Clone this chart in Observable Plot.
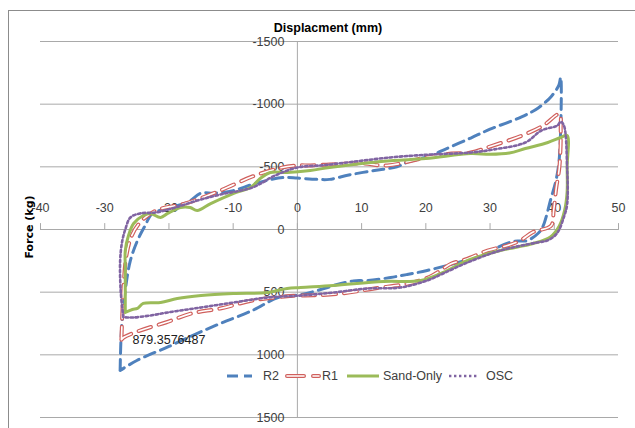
<!DOCTYPE html>
<html><head><meta charset="utf-8">
<script src="https://cdn.jsdelivr.net/npm/d3@7"></script>
<script src="https://cdn.jsdelivr.net/npm/@observablehq/plot@0.6"></script>
<style>
body{margin:0;background:#fff;overflow:hidden}
#wrap{position:relative;width:635px;height:428px;overflow:hidden;background:#fff;font-family:"Liberation Sans",Arial,sans-serif;color:#404040}
#frame{position:absolute;left:8px;top:10px;width:700px;height:500px;border:1px solid #8c8c8c}
#chart{position:absolute;left:0;top:0}
.title{position:absolute;left:228px;width:200px;top:21px;text-align:center;font-weight:bold;font-size:12.5px;color:#000}
.ylab{position:absolute;left:29px;top:227px;transform:translate(-50%,-50%) rotate(-90deg);font-family:"DejaVu Sans",sans-serif;font-weight:bold;font-size:11px;white-space:nowrap;color:#000}
.leg{position:absolute;top:367px;height:18px;display:flex;align-items:center;font-size:12.5px;color:#404040}
.leg svg{display:block}
</style></head>
<body>
<div id="wrap">
  <div id="frame"></div>
  <div id="chart"></div>
  <div class="title">Displacment (mm)</div>
  <div class="ylab">Force (kg)</div>
  <div id="legend"></div>
</div>
<script>
// ---- data (displacement mm, force kg) ----
const seriesNames = ["R2", "R1", "Sand-Only", "OSC"];

const r2X = [-27.6,-27.4,-26.8,-26.0,-24.9,-23.7,-22.6,-20,-17,-15,-13,-10,-7,-4,-2,0,3,5,8,12,15.5,17,20.5,23,27,30,35,37.5,39.5,40.7,41.0,40.8,40.3,39.5,38.2,37.5,35.8,33.6,30.5,29.6,25.6,20.2,17,14.5,11,8.7,5.6,4.7,0.5,-3,-7,-12,-16,-20,-25,-27.6];
const r2F = [1125,806,487,247,88,-32,-128,-170,-220,-290,-290,-310,-360,-400,-415,-410,-400,-400,-435,-471,-500,-535,-585,-640,-730,-800,-900,-970,-1060,-1150,-1213,-580,-400,-250,-20,30,88,95,160,191,255,327,360,383,407,410,447,463,520,543,646,750,838,933,1045,1125];

const r1X = [-27.4,-27.2,-27.0,-26.6,-25.8,-24.5,-22,-17.5,-12,-7,-3,0,2,5,10,14,20,24,27,30,35,38.3,40.8,41.0,40.8,40.3,39.9,39.5,36.7,34.7,32.7,29.6,27,25.5,24,21,18,12,7,2.5,0,-2,-7,-12,-16.5,-20.5,-24.5,-27,-27.4];
const r1F = [879.3576487,600,400,200,50,-56,-152,-207,-311,-423,-487,-511,-511,-519,-527,-511,-574,-606,-614,-662,-750,-830,-920,-800,-500,-330,-150,-30,20,88,128,168,223,250,271,367,423,470,510,525,527,535,567,630,670,742,806,860,879.3576487];

const sandX = [-26.8,-26.8,-26.8,-26.8,-26.3,-25.5,-24,-22.9,-21.3,-20.2,-18.2,-16.7,-15.6,-13.5,-10,-7.3,-5.8,-4.2,-1.6,2,5,10,15,20,27,30,33,35.5,39,41,42,42,42,41.6,40.8,39.4,36.7,31.6,26.5,22.7,19.2,13.4,5.6,0.5,-1.6,-4.7,-10,-15,-18.7,-21.3,-24,-24.9,-25.7,-26.8];
const sandF = [662,450,300,168,48,-48,-112,-128,-96,-128,-176,-176,-152,-207,-287,-335,-407,-455,-455,-471,-495,-527,-551,-566,-606,-600,-610,-646,-694,-734,-750,-500,-300,-150,-30,60,112,168,247,343,407,415,447,463,471,503,511,527,551,582,590,630,638,662];

const oscX = [-27.1,-27.5,-27.6,-27.3,-26.8,-26,-24.5,-22,-19,-15.6,-12,-7,-3.5,0,3.5,6.5,14.5,20.7,27,30.5,35.5,38,40.5,41,41.5,42,42,41.5,40.4,38.9,37.3,31.6,26.5,22.7,20.2,16,10.9,5.6,0.5,-4.7,-10,-15,-20.2,-22.9,-25.5,-26.5,-27.1];
const oscF = [700,500,250,100,0,-96,-128,-136,-176,-231,-279,-335,-430,-495,-511,-527,-575,-598,-614,-638,-694,-790,-830,-860,-830,-500,-200,-100,32,88,104,168,263,351,407,463,471,503,527,543,583,622,662,686,702,702,700];

const xTicks = [-40,-30,-20,-10,0,10,20,30,40,50];
const yTicks = [-1500,-1000,-500,0,500,1000,1500];
const labelValue = 879.3576487;

// ---- build table ----
const series = [
  {name: "R2", xs: r2X, fs: r2F},
  {name: "R1", xs: r1X, fs: r1F},
  {name: "Sand-Only", xs: sandX, fs: sandF},
  {name: "OSC", xs: oscX, fs: oscF}
];
const rows = series.map(s => s.xs.map((x, i) => ({series: s.name, x, f: s.fs[i]})));
const [r2Rows, r1Rows, sandRows, oscRows] = rows;
const labelRow = r1Rows.filter(d => d.f === labelValue).slice(0, 1);

const grid = "#a9a9a9";
const textCol = "#404040";
const FONT = '"Liberation Sans",Arial,sans-serif';
const tickShape = {draw(ctx, l) { ctx.moveTo(0, 0); ctx.lineTo(0, -l); }};

const chart = Plot.plot({
  width: 635, height: 428,
  marginLeft: 40, marginRight: 17, marginTop: 41, marginBottom: 11,
  x: {domain: [-40, 50], axis: null},
  y: {domain: [-1500, 1500], reverse: true, axis: null},
  style: {fontFamily: FONT, fontSize: "12.5px", background: "transparent", overflow: "visible"},
  marks: [
    Plot.gridY(yTicks, {stroke: grid, strokeOpacity: 1, strokeWidth: 1}),
    Plot.ruleX([0], {y1: -1500, y2: 1500, stroke: grid, strokeWidth: 1}),
    Plot.vector(xTicks, {x: d => d, y: 0, length: 6, anchor: "start", shape: tickShape, stroke: grid, strokeWidth: 1}),
    Plot.text(xTicks, {x: d => d, y: 0, dy: -22, text: d => String(d), fill: textCol, fontSize: 12.5}),
    Plot.text(yTicks, {x: 0, y: d => d, dx: -13, textAnchor: "end", text: d => String(d), fill: textCol, fontSize: 12.5}),
    Plot.line(r2Rows, {x: "x", y: "f", stroke: "#4F81BD", strokeWidth: 3, strokeDasharray: "11,6", curve: "catmull-rom"}),
    Plot.line(r1Rows, {x: "x", y: "f", stroke: "#D0605D", strokeWidth: 4, strokeDasharray: "13,8", strokeLinecap: "round", curve: "catmull-rom"}),
    Plot.line(r1Rows, {x: "x", y: "f", stroke: "#fff", strokeWidth: 1.6, strokeDasharray: "13,8", strokeLinecap: "round", curve: "catmull-rom"}),
    Plot.line(sandRows, {x: "x", y: "f", stroke: "#9BBB59", strokeWidth: 3, curve: "catmull-rom"}),
    Plot.line(oscRows, {x: "x", y: "f", stroke: "#8064A2", strokeWidth: 2.6, strokeDasharray: "2.4,2.6", curve: "catmull-rom"}),
    Plot.text(labelRow, {x: "x", y: "f", text: d => String(d.f), textAnchor: "start", dx: 11, fill: "#202020", fontSize: 12.5})
  ]
});
document.getElementById("chart").appendChild(chart);

// ---- legend ----
const legendItems = [
  {name: seriesNames[0], left: 225, w: 29, gap: 9, draw: s => s.append("line").attr("stroke", "#4F81BD").attr("stroke-width", 3).attr("stroke-dasharray", "11,6")},
  {name: seriesNames[1], left: 285, w: 36, gap: 1, draw: s => {
    s.append("line").attr("stroke", "#D0605D").attr("stroke-width", 4).attr("stroke-dasharray", "17,9").attr("stroke-linecap", "round");
    s.append("line").attr("stroke", "#fff").attr("stroke-width", 1.6).attr("stroke-dasharray", "17,9").attr("stroke-linecap", "round");
  }},
  {name: seriesNames[2], left: 345, w: 36, gap: 2, draw: s => s.append("line").attr("stroke", "#9BBB59").attr("stroke-width", 3)},
  {name: seriesNames[3], left: 447, w: 32, gap: 7, draw: s => s.append("line").attr("stroke", "#8064A2").attr("stroke-width", 2.6).attr("stroke-dasharray", "2.4,2.6")}
];
const leg = d3.select("#legend");
legendItems.forEach(it => {
  const div = leg.append("div").attr("class", "leg").style("left", it.left + "px");
  const svg = div.append("svg").attr("width", it.w).attr("height", 10);
  const g = svg.append("g");
  it.draw(g);
  g.selectAll("line").attr("x1", 2).attr("x2", it.w - 2).attr("y1", 5).attr("y2", 5);
  div.append("span").style("margin-left", it.gap + "px").text(it.name);
});
</script>
</body></html>
